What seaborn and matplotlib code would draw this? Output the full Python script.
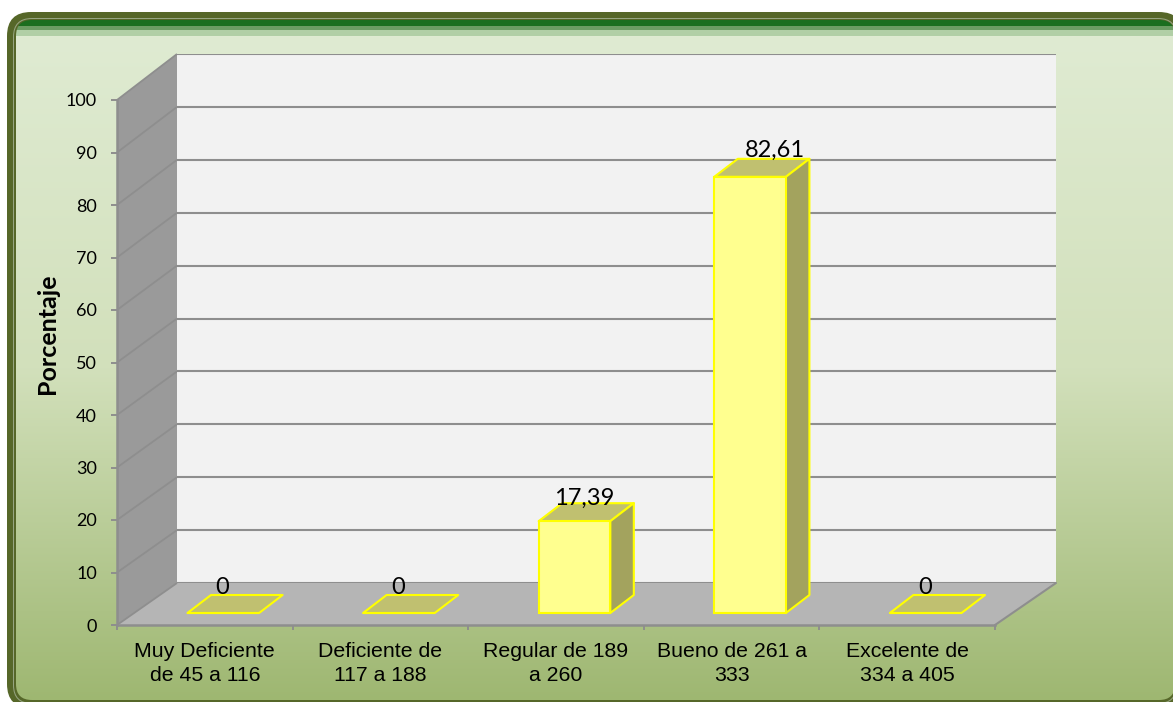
import numpy as np
import pandas as pd
import seaborn as sns
import matplotlib
matplotlib.use("Agg")
import matplotlib.pyplot as plt
from matplotlib.patches import FancyBboxPatch, Polygon, Rectangle
from matplotlib.colors import LinearSegmentedColormap

categories = ["Muy Deficiente\nde 45 a 116", "Deficiente de\n117 a 188", "Regular de 189\na 260",
              "Bueno de 261 a\n333", "Excelente de\n334 a 405"]
values = [0, 0, 17.39, 82.61, 0]
value_labels = ["0", "0", "17,39", "82,61", "0"]
y_ticks = list(range(0, 101, 10))
y_title = "Porcentaje"

W, H = 1173, 702
sns.set_theme(style="white")
plt.rcParams["font.family"] = ["Lato", "DejaVu Sans"]
fig = plt.figure(figsize=(W / 100, H / 100), dpi=100, facecolor="white")


def axes_px(left, top, right, bottom, **kw):
    return fig.add_axes([left / W, 1 - bottom / H, (right - left) / W, (bottom - top) / H], **kw)


GRID = "#8E8E8E"
# background, in pixel coordinates
bg = axes_px(0, 0, W, H, zorder=0)
bg.set_xlim(0, W)
bg.set_ylim(H, 0)
bg.axis("off")


def rbox(x0, y0, x1, y1, r, **kw):
    p = FancyBboxPatch((x0, y0), x1 - x0, y1 - y0, boxstyle=f"round,pad=0,rounding_size={r}", **kw)
    bg.add_patch(p)
    return p


rbox(7, 12, 1183, 708, 24, fc="#566729", ec="none", zorder=1)
rbox(13, 18, 1177, 704, 19, fc="#97A582", ec="none", zorder=1.1)
rbox(14, 19, 1176, 703, 18, fc="#566729", ec="none", zorder=1.2)
inner = rbox(16, 20, 1175, 700, 16, fc="none", ec="none", zorder=1.3)
cmap = LinearSegmentedColormap.from_list("g", ["#DFEBD2", "#D2E0BB", "#9EB771"])
img = bg.imshow(np.linspace(0, 1, 256)[:, None], extent=(0, W, 702, 36), cmap=cmap, aspect="auto", zorder=1.4)
img.set_clip_path(inner)
bg.set_xlim(0, W)
bg.set_ylim(H, 0)
for y0, y1, c in [(20, 25.5, "#1B6E1E"), (25.5, 30, "#6C9C62"), (30, 36, "#B1CFA6")]:
    r = Rectangle((0, y0), W, y1 - y0, fc=c, ec="none", zorder=1.5)
    bg.add_patch(r)
    r.set_clip_path(inner)

# left wall and floor
bg.add_patch(Polygon([(117, 100), (177, 54), (177, 583), (117, 625)], fc="#9A9A9A", ec="none", zorder=2))
bg.add_patch(Polygon([(117, 625), (177, 583), (1056, 583), (995, 625)], fc="#B5B5B5", ec="none", zorder=2))

# back wall
back = axes_px(177, 54, 1056, 583, zorder=1)
back.set_facecolor("#F2F2F2")
back.set_xlim(0, 1)
back.set_ylim(0, 100)
back.set_xticks([])
back.set_yticks(y_ticks)
back.tick_params(left=False, labelleft=False)
back.grid(axis="y", color=GRID, lw=1.5)
for s in back.spines.values():
    s.set_visible(False)

# front plane: axis ticks and labels
ax = axes_px(117, 100, 995, 625, zorder=2)
ax.patch.set_alpha(0)
ax.set_xlim(0, 5)
ax.set_ylim(0, 100)
ax.set_yticks(y_ticks)
ax.set_yticklabels([str(v) for v in y_ticks], fontsize=13, color="black")
ax.set_xticks(range(6))
ax.set_xticklabels([])
ax.set_xticks(np.arange(5) + 0.5, categories, minor=True, fontsize=15.3, color="black",
              fontfamily="Liberation Sans", linespacing=1.36)
ax.tick_params(axis="y", left=True, length=4.5, width=1.4, color=GRID, pad=10)
ax.tick_params(axis="x", which="major", bottom=True, length=3.6, width=1.4, color=GRID)
ax.tick_params(axis="x", which="minor", bottom=False, length=0, pad=12)
ax.set_ylabel(y_title, fontsize=18, fontweight="bold", color="black", labelpad=15)
ax.yaxis.set_label_coords((59 - 117) / 878, (625 - 334) / 525)
for name, s in ax.spines.items():
    s.set_visible(name in ("left", "bottom"))
    s.set_color(GRID)
    s.set_linewidth(1.8)
for v in y_ticks:
    fy, by = 625 - 5.25 * v, 583 - 5.29 * v
    bg.plot([117, 177], [fy, by], color=GRID, lw=1.3, zorder=2.5, solid_capstyle="butt")
bg.plot([995, 1056], [625, 583], color=GRID, lw=1.5, zorder=2.5)

# bars
bars = axes_px(135.5, 85, 1013.5, 613, zorder=3)
df = pd.DataFrame({"categoria": categories, "porcentaje": values})
sns.barplot(data=df, x="categoria", y="porcentaje", ax=bars, color="#FFFF8F", saturation=1,
            width=0.408, edgecolor="#FFFF00", linewidth=1.5, clip_on=False)
bars.set_xlim(-0.5, 4.5)
bars.set_ylim(0, 100)
bars.axis("off")
dx, dy = 23.5 / 175.6, 18 / 5.28
for i, patch in enumerate(bars.patches):
    patch.set_zorder(4)
    patch.set_clip_on(False)
    x0, w, h = patch.get_x(), patch.get_width(), patch.get_height()
    x1 = x0 + w
    bars.add_patch(Polygon([(x0, h), (x1, h), (x1 + dx, h + dy), (x0 + dx, h + dy)], fc="#C0C070",
                           ec="#FFFF00", lw=1.5, zorder=3.5, clip_on=False, joinstyle="round"))
    if h > 0:
        bars.add_patch(Polygon([(x1, 0), (x1 + dx, dy), (x1 + dx, h + dy), (x1, h)], fc="#A3A35E",
                               ec="#FFFF00", lw=1.5, zorder=3.5, clip_on=False, joinstyle="round"))

# value labels (hand-placed in the original)
label_offsets = [(-1, 25), (-1, 25), (10, 23), (25, 26), (-1, 25)]
for patch, text, (ox, oy) in zip(bars.patches, value_labels, label_offsets):
    bars.annotate(text, (patch.get_x() + patch.get_width() / 2, patch.get_height()),
                  xytext=(ox, oy), textcoords="offset pixels", ha="center", va="center",
                  fontsize=17, color="black", zorder=6, annotation_clip=False)

fig.savefig("out.png", dpi=100, facecolor="white")
